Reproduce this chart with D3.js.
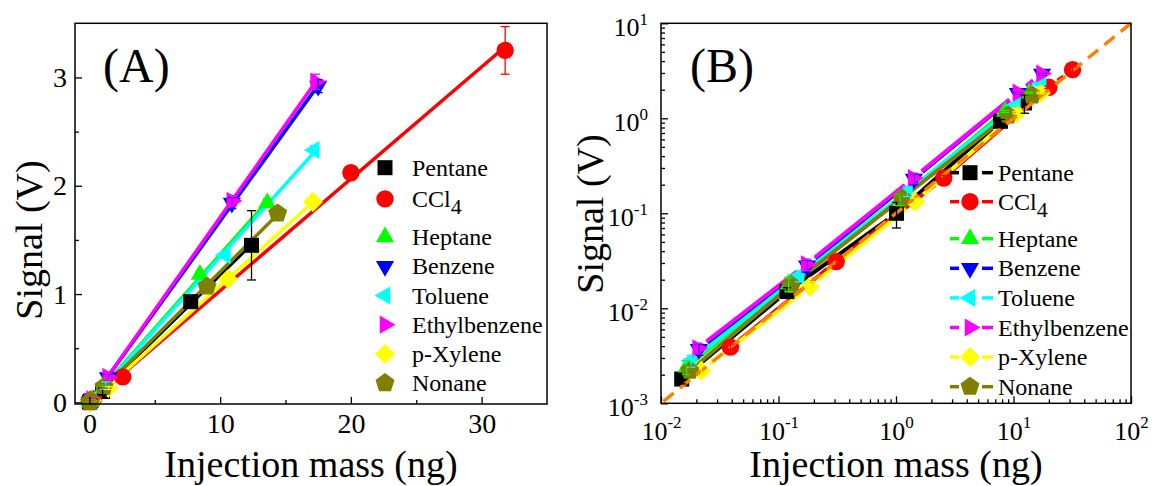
<!DOCTYPE html>
<html>
<head>
<meta charset="utf-8">
<script src="https://cdn.jsdelivr.net/npm/d3@7/dist/d3.min.js"></script>
<style>
  html, body { margin: 0; padding: 0; background: #fff; }
  svg text { font-family: "Liberation Serif", "Times New Roman", serif; fill: #000; }
</style>
</head>
<body>
<svg id="chart" width="1156" height="486"></svg>
<script>
// ---- Data: injection mass (ng), detector signal (V), standard deviation (V) ----
const compounds = ["Pentane", "CCl4", "Heptane", "Benzene", "Toluene", "Ethylbenzene", "p-Xylene", "Nonane"];
const colors    = ["#000000", "#ff0000", "#00ff00", "#0000ff", "#00ffff", "#ff00ff", "#ffff00", "#808000"];
const shapes    = ["square", "circle", "up", "down", "left", "right", "diamond", "pentagon"];

const pentaneMass   = [0.015, 0.118, 1.01, 7.75, 12.4];
const pentaneSignal = [0.0018, 0.015, 0.100, 0.93, 1.45];
const pentaneError  = [0.0002, 0.0015, 0.03, 0.04, 0.32];

const ccl4Mass   = [0.039, 0.31, 2.55, 20.0, 31.8];
const ccl4Signal = [0.0039, 0.031, 0.235, 2.12, 3.25];
const ccl4Error  = [0.0003, 0.003, 0.015, 0.06, 0.22];

const heptaneMass   = [0.0165, 0.122, 1.08, 8.45, 13.6];
const heptaneSignal = [0.0024, 0.018, 0.140, 1.18, 1.84];
const heptaneError  = [0.0004, 0.003, 0.02, 0.03, 0.04];

const benzeneMass   = [0.021, 0.175, 1.42, 10.9, 17.5];
const benzeneSignal = [0.0037, 0.028, 0.230, 1.84, 2.92];
const benzeneError  = [0.0005, 0.004, 0.03, 0.05, 0.06];

const tolueneMass   = [0.018, 0.150, 1.25, 10.4, 17.2];
const tolueneSignal = [0.0028, 0.022, 0.170, 1.36, 2.33];
const tolueneError  = [0.0004, 0.003, 0.02, 0.03, 0.04];

const ethylbenzeneMass   = [0.0205, 0.172, 1.40, 10.9, 17.3];
const ethylbenzeneSignal = [0.0038, 0.029, 0.235, 1.86, 2.96];
const ethylbenzeneError  = [0.0005, 0.004, 0.03, 0.05, 0.07];

const xyleneMass   = [0.022, 0.185, 1.45, 10.6, 17.1];
const xyleneSignal = [0.0022, 0.017, 0.132, 1.14, 1.85];
const xyleneError  = [0.0003, 0.002, 0.012, 0.03, 0.04];

const nonaneMass   = [0.0176, 0.129, 1.12, 9.0, 14.4];
const nonaneSignal = [0.0022, 0.0176, 0.144, 1.07, 1.745];
const nonaneError  = [0.0003, 0.002, 0.015, 0.03, 0.04];

// 1:10 reference line for the log-log panel
const refMass   = [0.0105, 100];
const refSignal = [0.00105, 10];

// Axis ticks
const linXTicks = [0, 10, 20, 30];
const linXMinor = [5, 15, 25];
const linYTicks = [0, 1, 2, 3];
const linYMinor = [0.5, 1.5, 2.5];
const logXTicks = [0.01, 0.1, 1, 10, 100];
const logYTicks = [0.001, 0.01, 0.1, 1, 10];
const minorMultipliers = [2, 3, 4, 5, 6, 7, 8, 9];

const massList   = [pentaneMass, ccl4Mass, heptaneMass, benzeneMass, tolueneMass, ethylbenzeneMass, xyleneMass, nonaneMass];
const signalList = [pentaneSignal, ccl4Signal, heptaneSignal, benzeneSignal, tolueneSignal, ethylbenzeneSignal, xyleneSignal, nonaneSignal];
const errorList  = [pentaneError, ccl4Error, heptaneError, benzeneError, tolueneError, ethylbenzeneError, xyleneError, nonaneError];

const series = compounds.map((name, i) => ({
  name, color: colors[i], shape: shapes[i],
  points: massList[i].map((m, j) => ({ m, s: signalList[i][j], e: errorList[i][j] }))
}));

// ---- Marker shapes ----
function markerPath(shape) {
  const p = d3.path();
  const poly = (pts) => { pts.forEach((q, k) => k ? p.lineTo(q[0], q[1]) : p.moveTo(q[0], q[1])); p.closePath(); };
  const tri = (rot) => {
    const R = 10.5;
    const pts = [0, 120, 240].map(a => {
      const t = (a + rot - 90) * Math.PI / 180;
      return [R * Math.cos(t), R * Math.sin(t)];
    });
    poly(pts);
  };
  switch (shape) {
    case "square": poly([[-7.5, -7.5], [7.5, -7.5], [7.5, 7.5], [-7.5, 7.5]]); break;
    case "circle": p.arc(0, 0, 8.7, 0, 2 * Math.PI); break;
    case "up": tri(0); break;
    case "down": tri(180); break;
    case "left": tri(-90); break;
    case "right": tri(90); break;
    case "diamond": poly([[0, -10], [10, 0], [0, 10], [-10, 0]]); break;
    case "pentagon": {
      const R = 10;
      poly(d3.range(5).map(k => {
        const t = (-90 + 72 * k) * Math.PI / 180;
        return [R * Math.cos(t), R * Math.sin(t)];
      }));
      break;
    }
  }
  return p.toString();
}

const svg = d3.select("#chart");

function frame(g, x0, y0, x1, y1) {
  g.append("rect").attr("x", x0).attr("y", y0).attr("width", x1 - x0).attr("height", y1 - y0)
    .attr("fill", "none").attr("stroke", "#000").attr("stroke-width", 1.5);
}

function styleAxis(g, fontFamily, fontSize) {
  g.select(".domain").remove();
  g.selectAll(".tick line").attr("stroke", "#000").attr("stroke-width", 1.3);
  g.selectAll(".tick text").attr("font-family", fontFamily).attr("font-size", fontSize).attr("fill", "#000");
}

function supLabels(g, expSize, rise) {
  g.selectAll(".tick text").each(function (d) {
    const t = d3.select(this).text(null);
    t.append("tspan").text("10");
    t.append("tspan").attr("dy", -rise).attr("font-size", expSize).text(Math.round(Math.log10(d)));
  });
}

function errorBars(g, pts, x, y, color, lowFloor) {
  pts.forEach(d => {
    const lo = Math.max(d.s - d.e, lowFloor), hi = d.s + d.e;
    const cx = x(d.m);
    g.append("line").attr("x1", cx).attr("x2", cx).attr("y1", y(lo)).attr("y2", y(hi))
      .attr("stroke", color).attr("stroke-width", 1.3);
    [lo, hi].forEach(v => g.append("line").attr("x1", cx - 4.5).attr("x2", cx + 4.5)
      .attr("y1", y(v)).attr("y2", y(v)).attr("stroke", color).attr("stroke-width", 1.3));
  });
}

function linearFit(pts) {
  const mx = d3.mean(pts, d => d.m), my = d3.mean(pts, d => d.s);
  let sxy = 0, sxx = 0;
  pts.forEach(d => { sxy += (d.m - mx) * (d.s - my); sxx += (d.m - mx) ** 2; });
  const b = sxy / sxx;
  return { a: my - b * mx, b };
}

// ================= Panel A: linear axes =================
{
  const L = 75, R = 547, T = 23.3, B = 404;
  const x = d3.scaleLinear().domain([-1.1, 35]).range([L, R]);
  const y = d3.scaleLinear().domain([-0.015, 3.5]).range([B, T]);
  const g = svg.append("g");

  // fitted calibration lines
  const lines = g.append("g");
  series.forEach(s => {
    const f = linearFit(s.points);
    const xs = d3.extent(s.points, d => d.m);
    lines.append("line")
      .attr("x1", x(xs[0])).attr("y1", y(f.a + f.b * xs[0]))
      .attr("x2", x(xs[1])).attr("y2", y(f.a + f.b * xs[1]))
      .attr("stroke", s.color).attr("stroke-width", 3.5);
  });

  const marks = g.append("g");
  series.forEach(s => {
    marks.selectAll(null).data(s.points).join("path")
      .attr("d", markerPath(s.shape))
      .attr("transform", d => `translate(${x(d.m)},${y(d.s)})`)
      .attr("fill", s.color);
  });
  const errs = g.append("g");
  series.forEach(s => errorBars(errs, s.points, x, y, s.color, -1));

  // axes with inward ticks
  const ax = g.append("g").attr("transform", `translate(0,${B})`)
    .call(d3.axisBottom(x).tickValues(linXTicks).tickFormat(d3.format("d")).tickSizeInner(-7).tickSizeOuter(0).tickPadding(9));
  styleAxis(ax, '"Liberation Serif", serif', 28);
  const axm = g.append("g").attr("transform", `translate(0,${B})`)
    .call(d3.axisBottom(x).tickValues(linXMinor).tickSizeInner(-4).tickSizeOuter(0).tickFormat(""));
  styleAxis(axm, "serif", 1);
  const ay = g.append("g").attr("transform", `translate(${L},0)`)
    .call(d3.axisLeft(y).tickValues(linYTicks).tickFormat(d3.format("d")).tickSizeInner(-7).tickSizeOuter(0).tickPadding(8));
  styleAxis(ay, '"Liberation Serif", serif', 28);
  const aym = g.append("g").attr("transform", `translate(${L},0)`)
    .call(d3.axisLeft(y).tickValues(linYMinor).tickSizeInner(-4).tickSizeOuter(0).tickFormat(""));
  styleAxis(aym, "serif", 1);
  frame(g, L, T, R, B);

  g.append("text").attr("x", 103).attr("y", 82).attr("font-size", 48).text("(A)");
  g.append("text").attr("x", (L + R) / 2).attr("y", 477).attr("text-anchor", "middle")
    .attr("font-size", 38).text("Injection mass (ng)");
  g.append("text").attr("transform", "translate(42,240) rotate(-90)").attr("text-anchor", "middle")
    .attr("font-size", 38).text("Signal (V)");

  // legend: markers only
  const lg = g.append("g");
  series.forEach((s, i) => {
    const yy = 167.7 + i * 29.2 + (i >= 1 ? 2 : 0) + (i >= 2 ? 9 : 0);
    lg.append("path").attr("d", markerPath(s.shape)).attr("transform", `translate(385,${yy})`).attr("fill", s.color);
    const t = lg.append("text").attr("x", 412).attr("y", yy + 8).attr("font-size", 24);
    if (s.name === "CCl4") {
      t.append("tspan").text("CCl");
      t.append("tspan").attr("dy", 7).attr("font-size", 22).text("4");
    } else t.text(s.name);
  });
}

// ================= Panel B: log-log axes =================
{
  const L = 661, R = 1131, T = 23.3, B = 403.3;
  const x = d3.scaleLog().domain([0.01, 100]).range([L, R]);
  const y = d3.scaleLog().domain([0.001, 10]).range([B, T]);
  const g = svg.append("g");

  // point-to-point lines with gaps around the symbols
  const gap = 11;
  const lines = g.append("g");
  series.forEach(s => {
    for (let j = 0; j < s.points.length - 1; j++) {
      const p0 = s.points[j], p1 = s.points[j + 1];
      const x0 = x(p0.m), y0 = y(p0.s), x1 = x(p1.m), y1 = y(p1.s);
      const len = Math.hypot(x1 - x0, y1 - y0);
      if (len <= 2 * gap) continue;
      const ux = (x1 - x0) / len, uy = (y1 - y0) / len;
      lines.append("line")
        .attr("x1", x0 + ux * gap).attr("y1", y0 + uy * gap)
        .attr("x2", x1 - ux * gap).attr("y2", y1 - uy * gap)
        .attr("stroke", s.color).attr("stroke-width", 4);
    }
  });

  const marks = g.append("g");
  series.forEach(s => {
    marks.selectAll(null).data(s.points).join("path")
      .attr("d", markerPath(s.shape))
      .attr("transform", d => `translate(${x(d.m)},${y(d.s)})`)
      .attr("fill", s.color);
  });

  // reference line
  g.append("line")
    .attr("x1", x(refMass[0])).attr("y1", y(refSignal[0]))
    .attr("x2", x(refMass[1])).attr("y2", y(refSignal[1]))
    .attr("stroke", "#ff8000").attr("stroke-width", 3.5).attr("stroke-dasharray", "13,8");

  const errs = g.append("g");
  series.forEach(s => errorBars(errs, s.points, x, y, s.color, 1e-4));

  const minor = (ticks) => ticks.slice(0, -1).flatMap(t => minorMultipliers.map(m => t * m));

  const ax = g.append("g").attr("transform", `translate(0,${B})`)
    .call(d3.axisBottom(x).tickValues(logXTicks).tickSizeInner(-7).tickSizeOuter(0).tickPadding(18));
  styleAxis(ax, '"Liberation Sans", Arial, sans-serif', 26);
  supLabels(ax, 17, 12);
  const axm = g.append("g").attr("transform", `translate(0,${B})`)
    .call(d3.axisBottom(x).tickValues(minor(logXTicks)).tickSizeInner(-4).tickSizeOuter(0).tickFormat(""));
  styleAxis(axm, "serif", 1);

  const ay = g.append("g").attr("transform", `translate(${L},0)`)
    .call(d3.axisLeft(y).tickValues(logYTicks).tickSizeInner(-7).tickSizeOuter(0).tickPadding(13));
  styleAxis(ay, '"Liberation Serif", serif', 26);
  supLabels(ay, 17, 11);
  ay.selectAll(".tick text").attr("dy", "0.45em");
  const aym = g.append("g").attr("transform", `translate(${L},0)`)
    .call(d3.axisLeft(y).tickValues(minor(logYTicks)).tickSizeInner(-4).tickSizeOuter(0).tickFormat(""));
  styleAxis(aym, "serif", 1);
  frame(g, L, T, R, B);

  g.append("text").attr("x", 690).attr("y", 82).attr("font-size", 48).text("(B)");
  g.append("text").attr("x", (L + R) / 2).attr("y", 477).attr("text-anchor", "middle")
    .attr("font-size", 38).text("Injection mass (ng)");
  g.append("text").attr("transform", "translate(603,214) rotate(-90)").attr("text-anchor", "middle")
    .attr("font-size", 38).text("Signal (V)");

  // legend: line + symbol
  const lg = g.append("g");
  series.forEach((s, i) => {
    const yy = 172.7 + i * 29.6 - (i >= 1 ? 0.6 : 0) + (i >= 2 ? 7.4 : 0);
    lg.append("line").attr("x1", 950).attr("x2", 959).attr("y1", yy).attr("y2", yy)
      .attr("stroke", s.color).attr("stroke-width", 3.5);
    lg.append("line").attr("x1", 982).attr("x2", 993).attr("y1", yy).attr("y2", yy)
      .attr("stroke", s.color).attr("stroke-width", 3.5);
    lg.append("path").attr("d", markerPath(s.shape)).attr("transform", `translate(970,${yy})`).attr("fill", s.color);
    const t = lg.append("text").attr("x", 998).attr("y", yy + 8).attr("font-size", 24);
    if (s.name === "CCl4") {
      t.append("tspan").text("CCl");
      t.append("tspan").attr("dy", 7).attr("font-size", 22).text("4");
    } else t.text(s.name);
  });
}
</script>
</body>
</html>
